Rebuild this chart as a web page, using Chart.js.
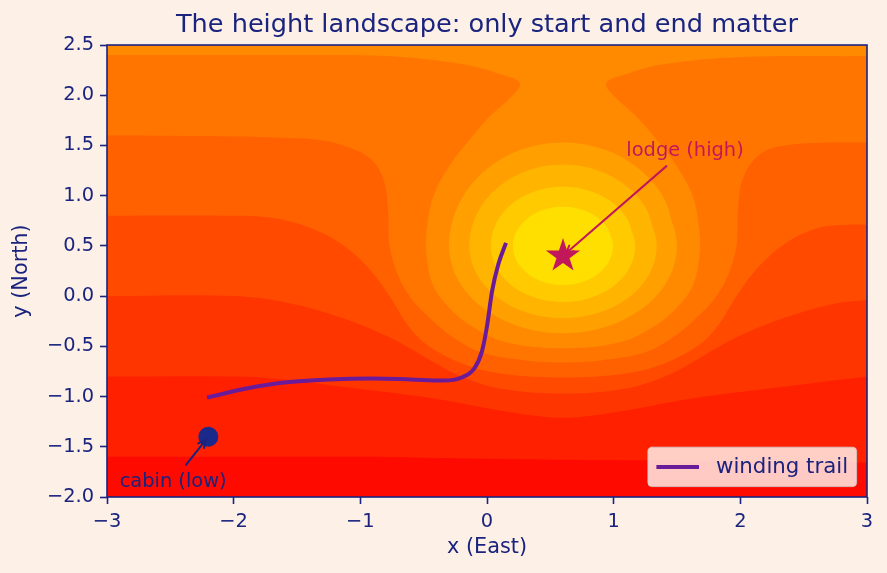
<!DOCTYPE html>
<html>
<head>
<meta charset="utf-8">
<script src="https://cdn.jsdelivr.net/npm/chart.js@4.4.1/dist/chart.umd.min.js"></script>
<style>html,body{margin:0;background:#fdf1e7}canvas{display:block}</style>
</head>
<body>
<canvas id="c" width="887" height="573"></canvas>
<script>
// ═══════════════════════════════════════════════════════
// DATA
// ═══════════════════════════════════════════════════════
const xRange=[-3,3];
const yRange=[-2,2.5];
const xTicks=[-3,-2,-1,0,1,2,3];
const yTicks=[-2,-1.5,-1,-0.5,0,0.5,1,1.5,2,2.5];

const trailLabel='winding trail';
const trailX=[-2.21,-1.9,-1.6,-1.25,-0.9,-0.6,-0.35,-0.2,-0.1,-0.04,0.0,0.04,0.09,0.15];
const trailY=[-1.01,-0.92,-0.86,-0.83,-0.82,-0.83,-0.84,-0.81,-0.72,-0.55,-0.3,0.05,0.32,0.53];

const cabin=[-2.2,-1.4];
const lodge=[0.6,0.4];
const notes=['lodge (high)','cabin (low)'];
const noteAt=[[1.1,1.4],[-2.9,-1.9]];
const noteTo=[lodge,cabin];

// contour lines, lowest level first (open lines run west to east)
const c1=[[-3,-1.6],[-2,-1.6],[-1,-1.6],[0,-1.62],[0.6,-1.63],[1.5,-1.64],[2.3,-1.65],[3,-1.66]];
const c2=[[-3,-0.8],[-2,-0.8],[-1.6,-0.83],[-1.16,-0.9],[-0.7,-0.97],[-0.37,-1.03],[0.16,-1.15],[0.6,-1.21],[1.04,-1.15],[1.57,-1.03],[1.9,-0.97],[2.36,-0.9],[2.8,-0.83],[3,-0.8]];
const c3=[[-3,0],[-2,0],[-1.56,-0.07],[-1.16,-0.21],[-0.77,-0.41],[-0.5,-0.6],[-0.24,-0.78],[0.1,-0.92],[0.6,-0.97],[1.1,-0.92],[1.44,-0.78],[1.7,-0.6],[1.97,-0.41],[2.36,-0.21],[2.76,-0.07],[3,-0.04]];
const c4=[[-3,0.8],[-2,0.8],[-1.7,0.78],[-1.42,0.69],[-1.16,0.53],[-0.95,0.3],[-0.78,0.02],[-0.62,-0.3],[-0.46,-0.5],[-0.2,-0.67],[0.1,-0.77],[0.6,-0.81],[1.1,-0.77],[1.4,-0.67],[1.66,-0.5],[1.82,-0.3],[1.98,0.02],[2.15,0.3],[2.36,0.53],[2.62,0.68],[2.85,0.71],[3,0.71]];
const c5=[[-3,1.6],[-2,1.59],[-1.7,1.58],[-1.29,1.55],[-1.03,1.45],[-0.89,1.33],[-0.81,1.13],[-0.78,0.83],[-0.77,0.5],[-0.7,0.2],[-0.6,-0.02],[-0.45,-0.22],[-0.28,-0.4],[-0.05,-0.56],[0.3,-0.64],[0.6,-0.66],[0.9,-0.64],[1.25,-0.56],[1.48,-0.4],[1.65,-0.22],[1.8,-0.02],[1.9,0.2],[1.97,0.5],[1.98,0.83],[2.01,1.13],[2.09,1.33],[2.22,1.46],[2.5,1.52],[3,1.53]];
const c6=[[-3,2.4],[-1.5,2.4],[-0.8,2.39],[-0.2,2.31],[0.08,2.22],[0.26,2.12],[0.18,1.97],[0.03,1.8],[-0.13,1.57],[-0.29,1.31],[-0.42,1.01],[-0.47,0.72],[-0.48,0.45],[-0.43,0.12],[-0.31,-0.1],[-0.12,-0.3],[0.15,-0.46],[0.6,-0.52],[1.05,-0.46],[1.32,-0.3],[1.51,-0.1],[1.63,0.12],[1.68,0.45],[1.67,0.72],[1.62,1.01],[1.49,1.31],[1.33,1.57],[1.17,1.8],[1.02,1.97],[0.94,2.12],[1.12,2.22],[1.4,2.31],[2,2.38],[3,2.39]];
// closed rings round the hill top
const c7=[[1.5,0.5],[1.379,1.015],[1.05,1.392],[0.6,1.53],[0.15,1.392],[-0.179,1.015],[-0.3,0.5],[-0.179,0.065],[0.15,-0.253],[0.6,-0.37],[1.05,-0.253],[1.379,0.065]];
const c8=[[1.34,0.5],[1.241,0.905],[0.97,1.201],[0.6,1.31],[0.23,1.201],[-0.041,0.905],[-0.14,0.5],[-0.041,0.14],[0.23,-0.124],[0.6,-0.22],[0.97,-0.124],[1.241,0.14]];
const c9=[[1.17,0.5],[1.094,0.795],[0.885,1.011],[0.6,1.09],[0.315,1.011],[0.106,0.795],[0.03,0.5],[0.106,0.22],[0.315,0.015],[0.6,-0.06],[0.885,0.015],[1.094,0.22]];
const c10=[[0.995,0.5],[0.942,0.695],[0.798,0.838],[0.6,0.89],[0.402,0.838],[0.258,0.695],[0.205,0.5],[0.258,0.305],[0.402,0.162],[0.6,0.11],[0.798,0.162],[0.942,0.305]];

const openLines=[c1,c2,c3,c4,c5,c6];
const rings=[c7,c8,c9,c10];

// ═══════════════════════════════════════════════════════
// STYLE
// ═══════════════════════════════════════════════════════
const bandColors=['#ff0a00','#ff2000','#ff3500','#ff4a00','#ff6000','#ff7500','#ff8a00','#ff9f00','#ffb500','#ffca00','#ffdf00'];
const NAVY='#1a237e', TRAIL='#6a1b9a', CRIMSON='#c2185b', DOT='#1b2a8a';
const noteColors=[CRIMSON,NAVY];
const FONT='"DejaVu Sans"';
const TICK=19.4, LABEL=20.8;
Chart.defaults.font.family=FONT;
Chart.defaults.color=NAVY;

const pts=a=>a.map(([x,y])=>({x,y}));
const fmt=(v,d)=>(v<0?'\u2212':'')+Math.abs(v).toFixed(d);

// filled five point star for the lodge marker
const star=document.createElement('canvas');star.width=star.height=36;
(()=>{const s=star.getContext('2d');s.fillStyle=CRIMSON;s.beginPath();
  for(let k=0;k<10;k++){const r=k%2?6.9:18,a=-Math.PI/2+k*Math.PI/5;s.lineTo(18+r*Math.cos(a),18+r*Math.sin(a));}
  s.closePath();s.fill();})();

const datasets=[
  {type:'line',label:trailLabel,data:trailX.map((x,i)=>({x,y:trailY[i]})),borderColor:TRAIL,borderWidth:4,
   pointRadius:0,cubicInterpolationMode:'monotone',fill:false,order:2},
  {type:'scatter',data:pts([cabin]),pointStyle:'circle',pointRadius:10,backgroundColor:DOT,borderWidth:0,order:1},
  {type:'scatter',data:pts([lodge]),pointStyle:star,pointRadius:18,order:1},
];
openLines.forEach((c,i)=>{
  const last=c[c.length-1];
  datasets.push({type:'line',data:pts([...c,last,[xRange[1],yRange[1]],[xRange[0],yRange[1]]]),fill:'shape',
    backgroundColor:bandColors[i+1],borderWidth:0,pointRadius:0,tension:.35,order:100-i});
});
rings.forEach((c,i)=>{
  datasets.push({type:'line',data:pts([...c,c[0],c[1]]),fill:'shape',
    backgroundColor:bandColors[i+7],borderWidth:0,pointRadius:0,tension:.35,order:90-i});
});

const decor={
  id:'decor',
  beforeDatasetsDraw(ch){
    const {ctx,chartArea:a}=ch;
    ctx.save();ctx.fillStyle=bandColors[0];ctx.fillRect(a.left,a.top,a.width,a.height);ctx.restore();
  },
  afterDatasetsDraw(ch){
    const {ctx,chartArea:a,scales:{x,y}}=ch;
    ctx.save();
    // annotations with arrows
    ctx.font=TICK+'px '+FONT;
    notes.forEach((t,i)=>{
      const tx=x.getPixelForValue(noteAt[i][0]),ty=y.getPixelForValue(noteAt[i][1]);
      const m=ctx.measureText(t);
      const l=tx-4,r=tx+m.width+4,top=ty-m.actualBoundingBoxAscent-4,bot=ty+m.actualBoundingBoxDescent+4;
      const cx=(l+r)/2,cy=(top+bot)/2;
      const px=x.getPixelForValue(noteTo[i][0]),py=y.getPixelForValue(noteTo[i][1]);
      let dx=px-cx,dy=py-cy;const len=Math.hypot(dx,dy);dx/=len;dy/=len;
      const k=Math.min(dx?((dx>0?r:l)-cx)/dx:1e9,dy?((dy>0?bot:top)-cy)/dy:1e9)+4;
      const sx=cx+dx*k,sy=cy+dy*k,ex=px-dx*4,ey=py-dy*4;
      ctx.strokeStyle=noteColors[i];ctx.lineWidth=2;ctx.lineCap='round';
      ctx.beginPath();ctx.moveTo(sx,sy);ctx.lineTo(ex,ey);
      ctx.moveTo(ex-dx*7.5-dy*3.75,ey-dy*7.5+dx*3.75);ctx.lineTo(ex,ey);ctx.lineTo(ex-dx*7.5+dy*3.75,ey-dy*7.5-dx*3.75);
      ctx.stroke();
      ctx.fillStyle=noteColors[i];ctx.textBaseline='alphabetic';ctx.fillText(t,tx,ty);
    });
    // legend, lower right
    const fs=21.3;ctx.font=fs+'px '+FONT;
    const tw=ctx.measureText(trailLabel).width,bp=.4*fs,hl=2*fs,hp=.8*fs;
    const bw=bp+hl+hp+tw+bp,bh=2*bp+22.4;
    const bx=a.right-10.4-bw,by=a.bottom-10.4-bh;
    ctx.beginPath();ctx.roundRect(bx,by,bw,bh,4);
    ctx.fillStyle='rgba(255,250,245,0.8)';ctx.fill();
    ctx.strokeStyle='rgba(204,204,204,0.8)';ctx.lineWidth=1;ctx.stroke();
    const ly=by+bh/2;
    ctx.strokeStyle=TRAIL;ctx.lineWidth=4;ctx.lineCap='butt';
    ctx.beginPath();ctx.moveTo(bx+bp,ly);ctx.lineTo(bx+bp+hl,ly);ctx.stroke();
    ctx.fillStyle=NAVY;ctx.textBaseline='middle';ctx.fillText(trailLabel,bx+bp+hl+hp,ly+1);
    // frame
    ctx.strokeStyle=NAVY;ctx.lineWidth=1.6;ctx.strokeRect(a.left,a.top,a.width,a.height);
    ctx.restore();
  }
};

const axisCommon={
  border:{display:false},
  grid:{drawOnChartArea:false,drawTicks:true,tickLength:7,tickWidth:1.6,tickColor:NAVY},
};

new Chart(document.getElementById('c'),{
  type:'scatter',
  data:{datasets},
  options:{
    responsive:false,devicePixelRatio:1,animation:false,events:[],
    layout:{padding:{left:0,right:20,top:0,bottom:0}},
    plugins:{
      legend:{display:false},tooltip:{enabled:false},
      title:{display:true,text:'The height landscape: only start and end matter',fullSize:false,color:NAVY,
        font:{size:25.6,weight:'normal'},padding:{top:10,bottom:4.3}}
    },
    scales:{
      x:{...axisCommon,min:xRange[0],max:xRange[1],
        afterBuildTicks:s=>{s.ticks=xTicks.map(value=>({value}));},
        afterFit:s=>{s.height=76;},
        ticks:{color:NAVY,font:{size:TICK},padding:6,maxRotation:0,autoSkip:false,callback:v=>fmt(v,0)},
        title:{display:true,text:'x (East)',color:NAVY,font:{size:LABEL},padding:{top:0,bottom:12.5}}},
      y:{...axisCommon,min:yRange[0],max:yRange[1],
        afterBuildTicks:s=>{s.ticks=yTicks.map(value=>({value}));},
        afterFit:s=>{s.width=107;},
        ticks:{color:NAVY,font:{size:TICK},padding:6,autoSkip:false,callback:v=>fmt(v,1)},
        title:{display:true,text:'y (North)',color:NAVY,font:{size:LABEL},padding:{top:9.5,bottom:0}}}
    }
  },
  plugins:[decor]
});
</script>
</body>
</html>
